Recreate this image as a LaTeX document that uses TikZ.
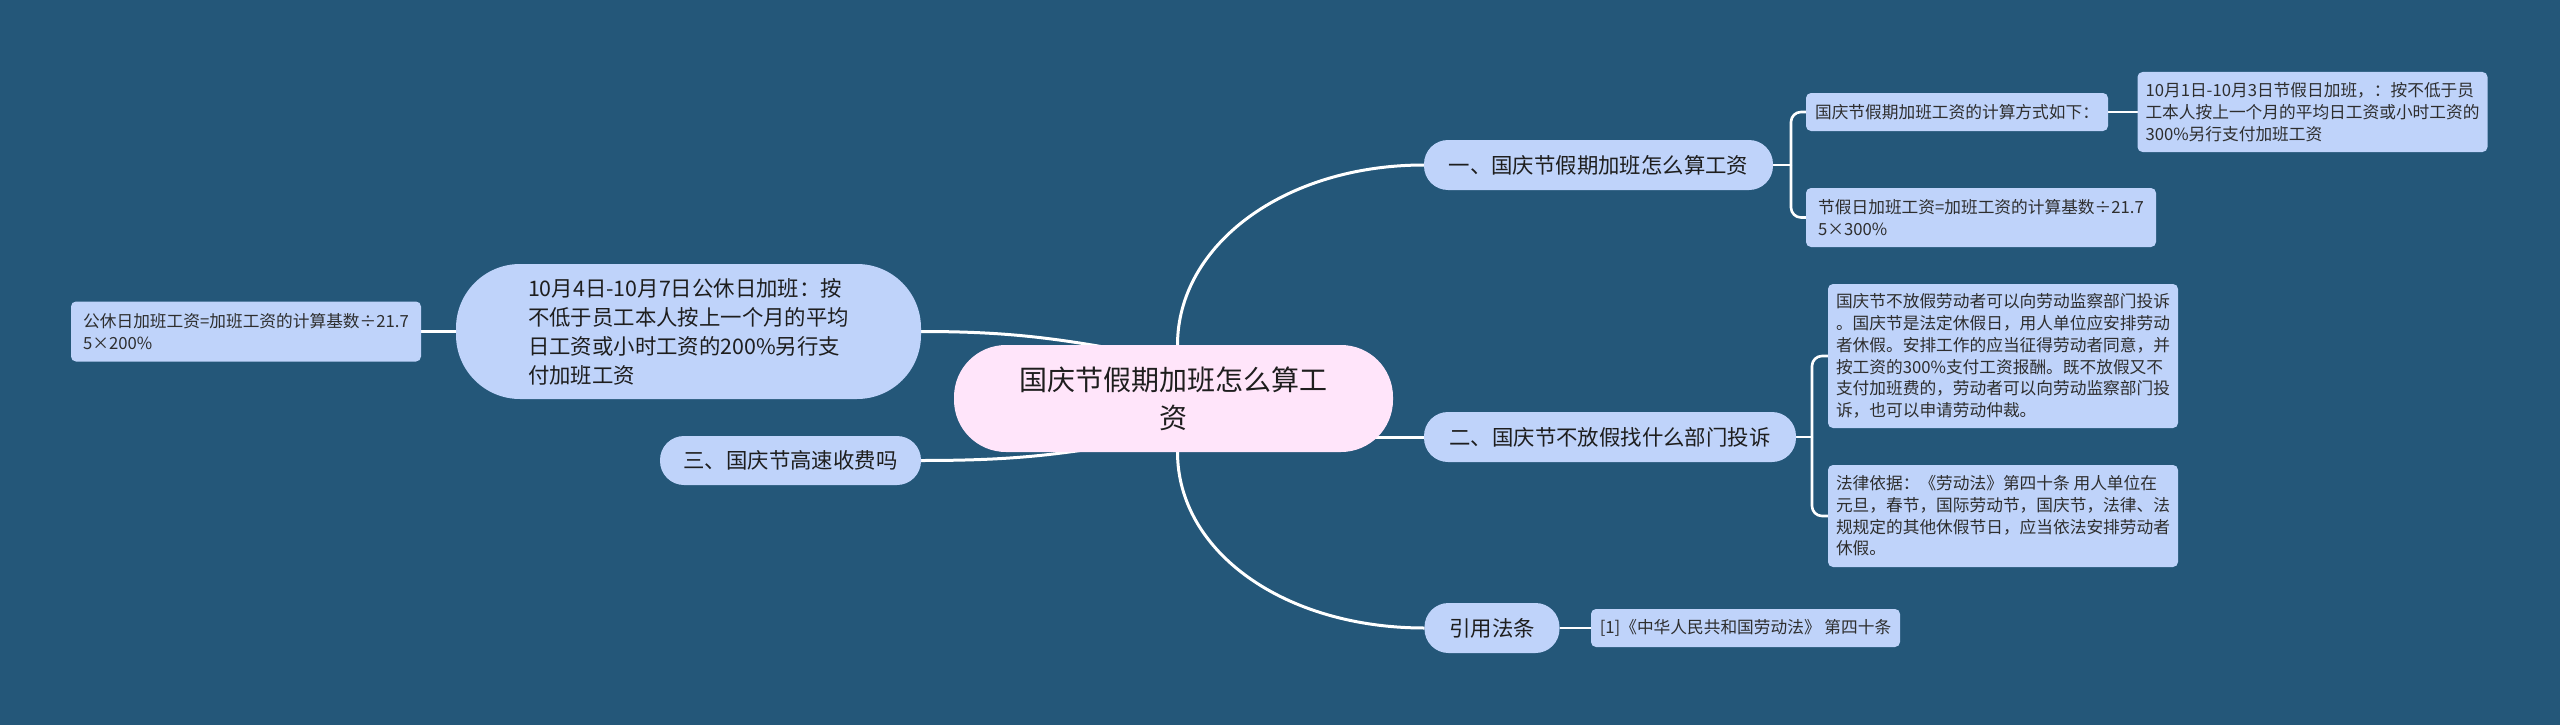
\documentclass[tikz,border=0pt]{standalone}
\usepackage{fontspec}
\newfontfamily\cjk{Noto Sans CJK SC}
\definecolor{bgc}{HTML}{245779}
\definecolor{nodeblue}{HTML}{BFD3FA}
\definecolor{rootpink}{HTML}{FFE5FA}
\definecolor{txt}{HTML}{1E1E1E}
\definecolor{txtleaf}{HTML}{2E2E2E}
\pgfdeclarelayer{bgl}
\pgfsetlayers{bgl,main}
\begin{document}
\begin{tikzpicture}[x=1pt,y=-1pt,
  base/.style={inner sep=0pt, outer sep=0pt, text=txt},
  rootbox/.style={base, fill=rootpink, rounded corners=52pt, align=center, font=\cjk\fontsize{28}{38}\selectfont},
  topic/.style={base, fill=nodeblue, rounded corners=24pt, align=center, font=\cjk\fontsize{21.4}{29}\selectfont},
  leaf/.style={base, fill=nodeblue, rounded corners=5pt, align=left, text=txtleaf, font=\cjk\fontsize{16.7}{21.7}\selectfont},
  conn/.style={draw=white, line width=3pt},
  leafconn/.style={draw=white, line width=2.6pt, rounded corners=10pt},
]
\useasboundingbox (0,0) rectangle (2560,725);

\node[rootbox, minimum width=439pt, minimum height=107pt] (c) at (1173.5,398.5) {国庆节假期加班怎么算工\\资};

\node[topic, minimum width=349pt, minimum height=50pt] (n1) at (1598.5,165) {一、国庆节假期加班怎么算工资};
\node[leaf, minimum width=302pt, minimum height=38pt] (l1a) at (1957,112) {国庆节假期加班工资的计算方式如下：};
\node[leaf, minimum width=350pt, minimum height=80pt] (l1aa) at (2312.5,112) {10月1日-10月3日节假日加班，：按不低于员\\工本人按上一个月的平均日工资或小时工资的\\300\%另行支付加班工资};
\node[leaf, minimum width=350pt, minimum height=59pt] (l1b) at (1981,217.5) {节假日加班工资=加班工资的计算基数÷21.7\\5×300\%};

\node[topic, minimum width=372pt, minimum height=50pt] (n2) at (1610,437) {二、国庆节不放假找什么部门投诉};
\node[leaf, minimum width=350pt, minimum height=144pt] (l2a) at (2003,356) {国庆节不放假劳动者可以向劳动监察部门投诉\\。国庆节是法定休假日，用人单位应安排劳动\\者休假。安排工作的应当征得劳动者同意，并\\按工资的300\%支付工资报酬。既不放假又不\\支付加班费的，劳动者可以向劳动监察部门投\\诉，也可以申请劳动仲裁。};
\node[leaf, minimum width=350pt, minimum height=102pt] (l2b) at (2003,516) {法律依据：《劳动法》第四十条 用人单位在\\元旦，春节，国际劳动节，国庆节，法律、法\\规规定的其他休假节日，应当依法安排劳动者\\休假。};

\node[topic, minimum width=135pt, minimum height=50pt] (n4) at (1492,628) {引用法条};
\node[leaf, minimum width=309pt, minimum height=38pt] (l4) at (1745.5,628) {[1]《中华人民共和国劳动法》 第四十条};

\node[topic, rounded corners=64pt, align=left, minimum width=465pt, minimum height=135pt] (L) at (688.5,331.5) {10月4日-10月7日公休日加班：按\\不低于员工本人按上一个月的平均\\日工资或小时工资的200\%另行支\\付加班工资};
\node[leaf, minimum width=350pt, minimum height=60pt] (LL) at (246,331.5) {公休日加班工资=加班工资的计算基数÷21.7\\5×200\%};

\node[topic, minimum width=261pt, minimum height=49pt] (n3) at (790.5,460.5) {三、国庆节高速收费吗};

\begin{pgfonlayer}{bgl}
\fill[bgc] (0,0) rectangle (2560,725);
% root connectors
\draw[conn] (c.center) -- ([xshift=4pt]c.north) .. controls +(0,-100) and +(-140,0) .. (n1.west);
\draw[conn] (c.center) -- ([xshift=4pt]c.south) .. controls +(0,100) and +(-140,0) .. (n4.west);
\draw[conn] (c.center |- n2.west) -- (n2.west);
\draw[conn] (c.center) -- ([shift={(-23,-43)}]c.center) .. controls +(-90,-17) and +(90,0) .. (L.east);
\draw[conn] (c.center) -- ([shift={(-23,40)}]c.center) .. controls +(-90,17) and +(90,0) .. (n3.east);
% leaf connectors
\draw[leafconn] (n1.east) -- ++(18,0) coordinate (b1);
\draw[leafconn] (b1) |- (l1a.west);
\draw[leafconn] (b1) |- (l1b.west);
\draw[leafconn] (l1a.east) -- (l1aa.west);
\draw[leafconn] (n2.east) -- ++(16,0) coordinate (b2);
\draw[leafconn] (b2) |- (l2a.west);
\draw[leafconn] (b2) |- (l2b.west);
\draw[leafconn] (n4.east) -- (l4.west);
\draw[leafconn] (L.west) -- (LL.east);
\end{pgfonlayer}
\end{tikzpicture}
\end{document}
